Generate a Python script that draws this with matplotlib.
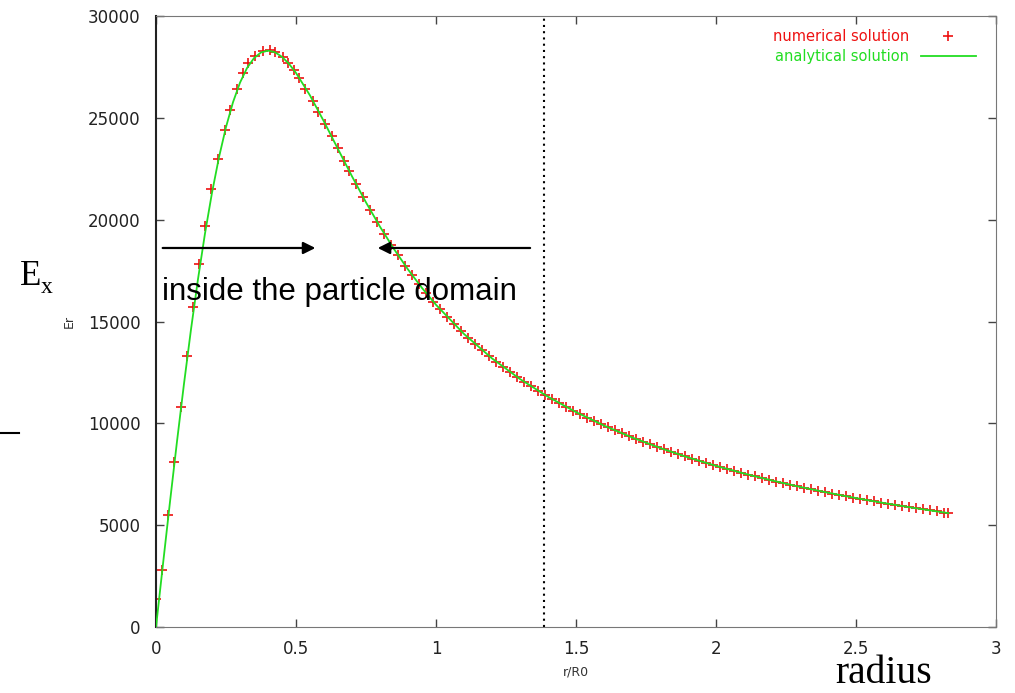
import matplotlib.pyplot as plt
from matplotlib.lines import Line2D

# numerical solution (red crosses)
num_r = [0.0, 0.021, 0.043, 0.064, 0.089, 0.111, 0.132, 0.154, 0.175, 0.196,
         0.221, 0.246, 0.264, 0.289, 0.311, 0.329, 0.354, 0.382, 0.407, 0.425,
         0.454, 0.471, 0.493, 0.511, 0.532, 0.561, 0.579, 0.604, 0.629, 0.65,
         0.671, 0.69, 0.715, 0.74, 0.765, 0.79, 0.815, 0.84, 0.865, 0.89,
         0.915, 0.94, 0.965, 0.99, 1.015, 1.04, 1.065, 1.09, 1.115, 1.14,
         1.165, 1.19, 1.215, 1.24, 1.265, 1.29, 1.315, 1.34, 1.365, 1.39,
         1.415, 1.44, 1.465, 1.49, 1.515, 1.54, 1.565, 1.59, 1.615, 1.64,
         1.665, 1.69, 1.715, 1.74, 1.765, 1.79, 1.815, 1.84, 1.865, 1.89,
         1.915, 1.94, 1.965, 1.99, 2.015, 2.04, 2.065, 2.09, 2.115, 2.14,
         2.165, 2.19, 2.215, 2.24, 2.265, 2.29, 2.315, 2.34, 2.365, 2.39,
         2.415, 2.44, 2.465, 2.49, 2.515, 2.54, 2.565, 2.59, 2.615, 2.64,
         2.665, 2.69, 2.715, 2.74, 2.765, 2.79, 2.815, 2.83]
num_E = [1400, 2800, 5500, 8100, 10800, 13300, 15700, 17800, 19700, 21500,
         23000, 24400, 25400, 26400, 27200, 27700, 28050, 28300, 28350, 28230,
         28000, 27700, 27350, 26950, 26400, 25850, 25300, 24700, 24100, 23500,
         22900, 22390, 21735, 21100, 20480, 19885, 19314, 18768, 18246, 17748,
         17273, 16821, 16390, 15979, 15593, 15218, 14861, 14520, 14195, 13883,
         13585, 13300, 13026, 12764, 12511, 12269, 12036, 11811, 11595, 11386,
         11185, 10991, 10803, 10622, 10447, 10277, 10113, 9954, 9800, 9651,
         9506, 9365, 9229, 9096, 8967, 8842, 8720, 8602, 8486, 8374,
         8265, 8158, 8054, 7953, 7855, 7758, 7664, 7573, 7483, 7396,
         7310, 7227, 7145, 7066, 6988, 6911, 6837, 6764, 6692, 6622,
         6554, 6486, 6421, 6356, 6293, 6231, 6170, 6111, 6052, 5995,
         5939, 5884, 5829, 5776, 5724, 5673, 5622, 5597]

# analytical solution (green line)
ana_r = [0.0, 0.025, 0.05, 0.075, 0.1, 0.125, 0.15, 0.175, 0.2, 0.225,
         0.25, 0.275, 0.3, 0.325, 0.35, 0.375, 0.4, 0.425, 0.45, 0.475,
         0.5, 0.55, 0.6, 0.65, 0.7, 0.75, 0.8, 0.85, 0.9, 0.95,
         1.0, 1.1, 1.2, 1.3, 1.4, 1.5, 1.6, 1.7, 1.8, 1.9,
         2.0, 2.1, 2.2, 2.3, 2.4, 2.5, 2.6, 2.7, 2.8, 2.83]
ana_E = [0, 3098, 6152, 9116, 11949, 14615, 17084, 19327, 21325, 23069,
         24548, 25767, 26728, 27445, 27934, 28211, 28299, 28220, 27996, 27651,
         27206, 26099, 24815, 23466, 22127, 20848, 19654, 18556, 17555, 16646,
         15821, 14388, 13189, 12175, 11305, 10551, 9892, 9310, 8793, 8330,
         7914, 7537, 7194, 6881, 6595, 6331, 6087, 5862, 5653, 5593]

boundary_r = 1.386
arrow_E = 18610

fig = plt.figure(figsize=(10.15, 6.93), dpi=100)
ax = fig.add_axes([0.1537, 0.0952, 0.8276, 0.8817])

ax.plot(num_r, num_E, linestyle='none', marker='+', markersize=7.5,
        markeredgewidth=1.2, color='#ee1111', label='numerical solution', zorder=2)
ax.plot(ana_r, ana_E, color='#22dd22', lw=1.3, label='analytical solution', zorder=3)
ax.axvline(boundary_r, color='black', ls=(0, (1, 2)), lw=1.5, zorder=1)

ax.set_xlim(0, 3)
ax.set_ylim(0, 30000)
ax.set_xticks([0, 0.5, 1, 1.5, 2, 2.5, 3])
ax.set_xticklabels(['0', '0.5', '1', '1.5', '2', '2.5', '3'])
ax.set_yticks(range(0, 30001, 5000))
ax.tick_params(direction='in', length=6, width=1, top=True, right=True,
               labelsize=12, labelcolor='#222222', color='#444444')
ax.tick_params(axis='y', pad=11)
ax.tick_params(axis='x', pad=9)
for side in ['top', 'right', 'bottom']:
    ax.spines[side].set_color('#777777')
ax.spines['left'].set_color('#222222')
ax.spines['left'].set_linewidth(1.5)

ax.set_xlabel('r/R0', fontsize=9, color='#333333', labelpad=6)
ax.set_ylabel('Er', fontsize=9, color='#333333', labelpad=9)

leg = ax.legend(loc='upper right', bbox_to_anchor=(0.985, 0.99), frameon=False,
                markerfirst=False, fontsize=10.5, handlelength=3.8,
                handletextpad=0.8, borderpad=0, labelspacing=0.3,
                labelcolor=['#ee1111', '#22dd22'])

# annotations added over the chart
ax.annotate('', xy=(0.579, arrow_E), xytext=(0.014, arrow_E),
            arrowprops=dict(arrowstyle='-|>', color='black', lw=1.6, mutation_scale=18))
ax.annotate('', xy=(0.782, arrow_E), xytext=(1.346, arrow_E),
            arrowprops=dict(arrowstyle='-|>', color='black', lw=1.6, mutation_scale=18))
ax.text(0.02, 16450, 'inside the particle domain', fontsize=22.5,
        family='Liberation Sans', va='center', ha='left')

fig.text(20 / 1015, 1 - 285 / 693, 'E', fontsize=25, family='Liberation Serif')
fig.text(41 / 1015, 1 - 293 / 693, 'x', fontsize=17, family='Liberation Serif')
fig.text(835 / 1015, 1 / 693, 'radius', fontsize=28.5, family='Liberation Serif',
         va='bottom')
fig.add_artist(Line2D([0, 19 / 1015], [1 - 433 / 693, 1 - 433 / 693],
                      color='black', lw=1.5))

plt.savefig('out.png')
